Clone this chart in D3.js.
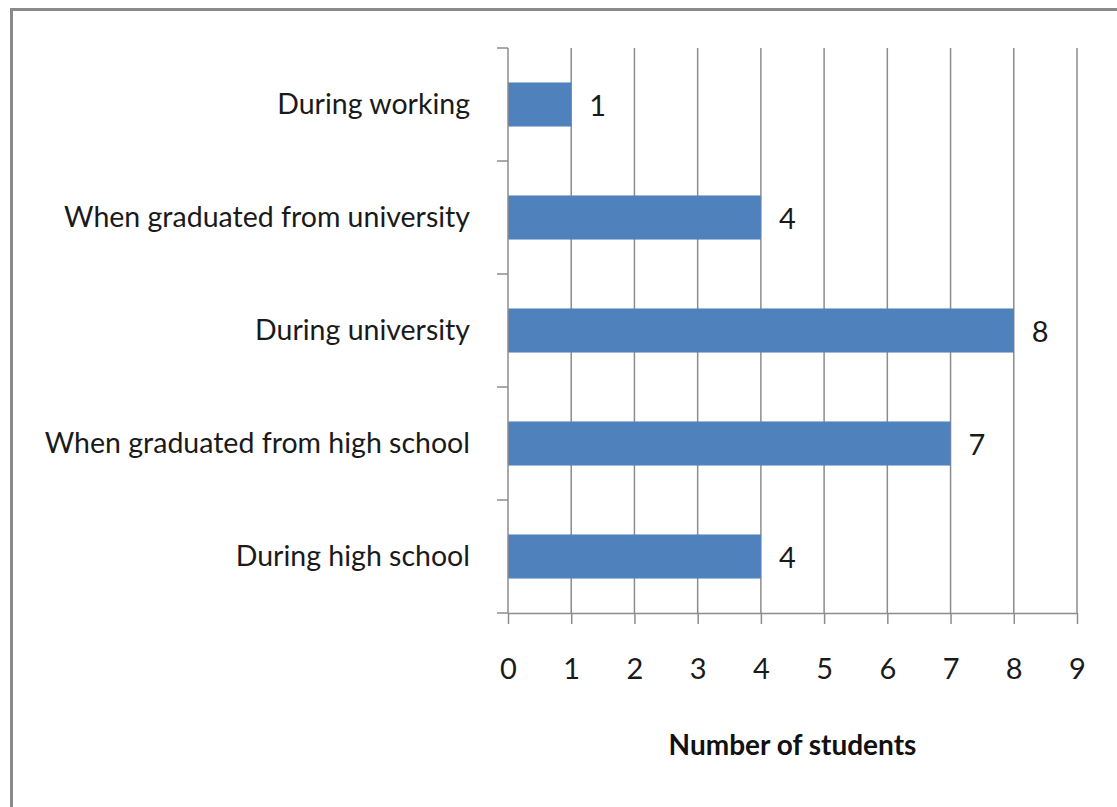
<!DOCTYPE html>
<html><head><meta charset="utf-8">
<script src="https://cdn.jsdelivr.net/npm/d3@7"></script>
<style>body{margin:0;background:#fff}svg{display:block}</style>
</head><body>
<script>
const categories = ["During working","When graduated from university","During university","When graduated from high school","During high school"];
const values = [1,4,8,7,4];
const xTicks = [0,1,2,3,4,5,6,7,8,9];
const xTitle = "Number of students";

const W=1117,H=807;
const svg=d3.select("body").append("svg").attr("width",W).attr("height",H);
svg.append("rect").attr("x",11.5).attr("y",9.5).attr("width",W+20).attr("height",H+20)
  .attr("fill","#fff").attr("stroke","#8a8a8a").attr("stroke-width",3);

const font="Lato, 'Open Sans', sans-serif";
const x=d3.scaleLinear().domain([0,9]).range([508,1077]);
const y=d3.scaleBand().domain(categories).range([48,613]).paddingInner(0.61).paddingOuter(0.305);
const gridC="#8c8c8c";

// gridlines
svg.append("g").selectAll("line").data(xTicks.slice(1)).join("line")
  .attr("x1",d=>x(d)).attr("x2",d=>x(d)).attr("y1",48).attr("y2",613)
  .attr("stroke",gridC).attr("stroke-width",1.5);

// bars
svg.append("g").selectAll("rect").data(values).join("rect")
  .attr("x",x(0)).attr("y",(d,i)=>y(categories[i]))
  .attr("width",d=>x(d)-x(0)).attr("height",y.bandwidth())
  .attr("fill","#4F81BD");

// x axis
const xa=svg.append("g").attr("transform","translate(0,613)")
  .call(d3.axisBottom(x).tickValues(xTicks).tickSize(11).tickPadding(34).tickSizeOuter(0));
xa.select(".domain").attr("stroke",gridC).attr("stroke-width",1.5);
xa.selectAll(".tick line").attr("stroke",gridC).attr("stroke-width",1.5);
xa.selectAll("text").attr("font-family",font).attr("font-size",29).attr("fill","#1a1a1a");

// y axis
const boundaries=categories.map(c=>y(c)-y.step()*y.paddingInner()/2).concat([613]);
const ya=svg.append("g");
ya.append("line").attr("x1",508).attr("x2",508).attr("y1",48).attr("y2",613).attr("stroke",gridC).attr("stroke-width",1.5);
ya.selectAll("line.t").data(boundaries).join("line").attr("class","t")
  .attr("x1",497).attr("x2",508).attr("y1",d=>d).attr("y2",d=>d).attr("stroke",gridC).attr("stroke-width",1.5);
ya.selectAll("text").data(categories).join("text")
  .attr("x",470).attr("y",d=>y(d)+y.bandwidth()/2).attr("dy","0.35em")
  .attr("text-anchor","end").attr("font-family",font).attr("font-size",28.5).attr("fill","#1a1a1a")
  .text(d=>d);

// value labels
svg.append("g").selectAll("text").data(values).join("text")
  .attr("x",d=>x(d)+18).attr("y",(d,i)=>y(categories[i])+y.bandwidth()/2).attr("dy","0.38em")
  .attr("font-family",font).attr("font-size",29).attr("fill","#1a1a1a").text(d=>d);

// title
svg.append("text").attr("x",(x(0)+x(9))/2).attr("y",755).attr("text-anchor","middle")
  .attr("font-family",font).attr("font-weight","bold").attr("font-size",28).attr("fill","#111").text(xTitle);
</script>
</body></html>
